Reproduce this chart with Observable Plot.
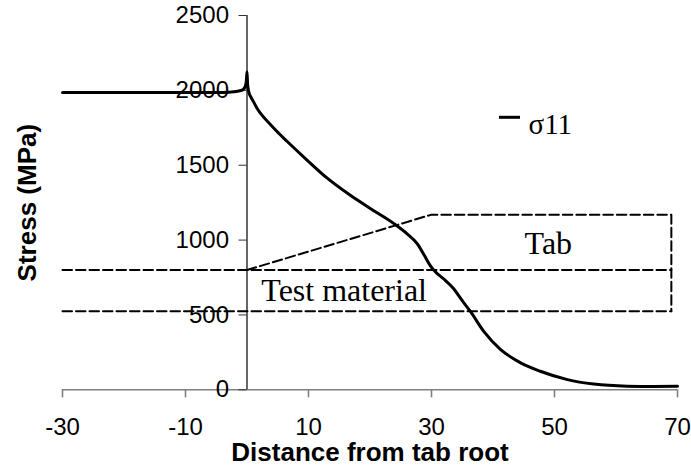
<!DOCTYPE html>
<html><head><meta charset="utf-8">
<script src="https://cdn.jsdelivr.net/npm/d3@7"></script>
<script src="https://cdn.jsdelivr.net/npm/@observablehq/plot@0.6"></script>
<style>body{margin:0;background:#fff} #chart{width:691px;height:467px}</style>
</head><body><div id="chart"></div>
<script>
// Stress along distance from tab root (σ11)
const distance = [-30,-20,-10,-5,-3,-1.5,-0.7,-0.3,-0.1,0,0.1,0.3,0.6,1.0,1.7,2.6,3.8,5,6.5,9.8,13,16.8,20.1,23.9,26,27.7,28.8,29.8,30.7,32,33.5,35,36.3,38.5,41.2,44.5,47.7,52.1,56.4,61.8,66,70];
const stress   = [1985,1985,1985,1986,1988,1994,2003,2025,2065,2125,2040,1988,1958,1928,1876,1826,1772,1720,1660,1533,1415,1299,1210,1110,1043,975,900,830,785,740,680,595,525,390,270,180,124,68,38,24,22,23];

// Schematic outline (dashed): test material strip and tab
const testTopX = [-30, 69];    const testTopY = [800, 800];
const testBottomX = [-30, 69]; const testBottomY = [525, 525];
const tabX = [0, 30, 69, 69];  const tabY = [800, 1170, 1170, 525];

const annoLabels = ["Tab", "Test material"];
const annoX = [49, 15.8];
const annoY = [976, 661];

const xTicks = [-30, -10, 10, 30, 50, 70];
const yTicks = [0, 500, 1000, 1500, 2000, 2500];
const seriesName = "σ11";

const W = 691, H = 467, mL = 62, mR = 14, mT = 15, mB = 77.7;
const xDomain = [-30, 70], yDomain = [0, 2500];

const curve = distance.map((d, i) => ({x: d, y: stress[i]}));
const outline = [
  ...testTopX.map((d, i) => ({x: d, y: testTopY[i], z: "top"})),
  ...testBottomX.map((d, i) => ({x: d, y: testBottomY[i], z: "bottom"})),
  ...tabX.map((d, i) => ({x: d, y: tabY[i], z: "tab"}))
];

const xs = Plot.scale({x: {domain: xDomain, range: [mL, W - mR]}});
const yAxisDx = xs.apply(0) - mL;

const sans = "'Liberation Sans', Arial, sans-serif";
const serif = "'Liberation Serif', 'Times New Roman', serif";

const chart = Plot.plot({
  width: W, height: H,
  marginLeft: mL, marginRight: mR, marginTop: mT, marginBottom: mB,
  x: {domain: xDomain, label: null},
  y: {domain: yDomain, label: null},
  style: {fontFamily: sans, background: "#fff", color: "black"},
  marks: [
    Plot.line(outline, {x: "x", y: "y", z: "z", stroke: "black", strokeWidth: 2, strokeDasharray: "9.5,4"}),
    Plot.ruleY([0], {stroke: "#808080", strokeWidth: 1.6}),
    Plot.axisX(xTicks, {tickSize: 8, text: null, label: null, stroke: "#808080", strokeWidth: 1.6}),
    Plot.axisX(xTicks, {tickSize: 0, tickPadding: 28, label: null, fontSize: 24, fill: "black", tickFormat: d => String(d)}),
    Plot.ruleX([0], {stroke: "black", strokeWidth: 1.2}),
    Plot.axisY(yTicks, {anchor: "left", dx: yAxisDx, label: null, tickSize: 8, tickPadding: 10, fontSize: 24, stroke: "#333", fill: "black", tickFormat: d => String(d)}),
    Plot.line(curve, {x: "x", y: "y", stroke: "black", strokeWidth: 3, curve: "monotone-x"}),
    Plot.text(annoLabels, {x: annoX, y: annoY, text: d => d, fontFamily: serif, fontSize: 32, fill: "black"}),
    Plot.text([seriesName], {frameAnchor: "top-left", dx: 528 - mL, dy: 113.4 - mT, textAnchor: "start", fontFamily: serif, fontSize: 29, fill: "black"}),
    Plot.text(["Distance from tab root"], {frameAnchor: "bottom", textAnchor: "middle", lineAnchor: "top", dy: 53, fontSize: 26, fontWeight: "bold", fill: "black"}),
    Plot.text(["Stress (MPa)"], {frameAnchor: "left", textAnchor: "middle", rotate: -90, dx: -35, fontSize: 26, fontWeight: "bold", fill: "black"})
  ]
});
document.getElementById("chart").appendChild(chart);

// legend swatch
d3.select(chart).append("line")
  .attr("x1", 499).attr("x2", 520).attr("y1", 117.3).attr("y2", 117.3)
  .attr("stroke", "black").attr("stroke-width", 3);
</script>
</body></html>
